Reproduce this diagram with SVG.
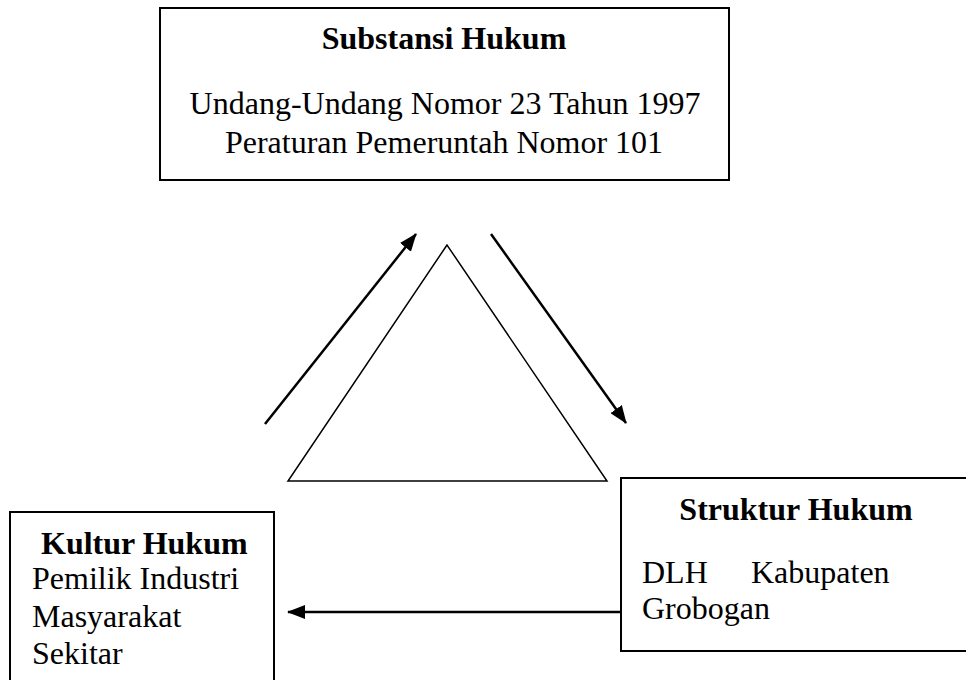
<svg xmlns="http://www.w3.org/2000/svg" width="966" height="680" viewBox="0 0 966 680">
<style>
.box{fill:#fff;stroke:#000;stroke-width:2}
.t{font-family:"Liberation Serif","Times New Roman",serif;font-size:32px;fill:#000}
.b{font-weight:bold}
.c{stroke:#000;stroke-width:2.5;fill:none}
</style>
<defs>
<marker id="ah" viewBox="0 0 18 14" refX="17" refY="7" markerWidth="18" markerHeight="14" markerUnits="userSpaceOnUse" orient="auto">
<path d="M0,0 L18,7 L0,14 Z" fill="#000"/>
</marker>
</defs>
<rect width="966" height="680" fill="#fff"/>
<g id="substansi">
<rect class="box" x="160" y="8" width="569" height="172"/>
<text class="t b" x="444" y="49" text-anchor="middle">Substansi Hukum</text>
<text class="t" x="445" y="114" text-anchor="middle">Undang-Undang Nomor 23 Tahun 1997</text>
<text class="t" x="444" y="153" text-anchor="middle">Peraturan Pemeruntah Nomor 101</text>
</g>
<g id="triangle">
<polygon points="447,245 288,481 607,481" fill="none" stroke="#000" stroke-width="1.5"/>
</g>
<g id="kultur">
<rect class="box" x="10" y="512" width="264" height="180"/>
<text class="t b" x="41" y="554">Kultur Hukum</text>
<text class="t" x="32" y="589">Pemilik Industri</text>
<text class="t" x="32" y="627">Masyarakat</text>
<text class="t" x="32" y="664">Sekitar</text>
</g>
<g id="struktur">
<rect class="box" x="621" y="478" width="360" height="173"/>
<text class="t b" x="796" y="520" text-anchor="middle">Struktur Hukum</text>
<text class="t" x="642" y="583">DLH</text>
<text class="t" x="751" y="583">Kabupaten</text>
<text class="t" x="642" y="619">Grobogan</text>
</g>
<g id="connectors">
<line class="c" x1="265" y1="424" x2="416" y2="234" marker-end="url(#ah)"/>
<line class="c" x1="491" y1="234" x2="626" y2="423" marker-end="url(#ah)"/>
<line class="c" x1="621" y1="612" x2="288" y2="612" marker-end="url(#ah)"/>
</g>
</svg>
